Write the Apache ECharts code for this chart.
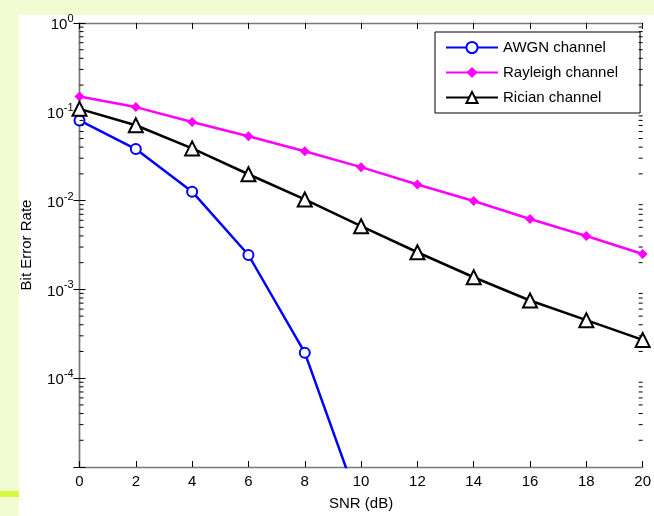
<!DOCTYPE html>
<html>
<head>
<meta charset="utf-8">
<script src="https://cdn.jsdelivr.net/npm/echarts@6/dist/echarts.min.js"></script>
<style>
html,body{margin:0;padding:0;width:654px;height:516px;overflow:hidden;background:#f2fcd2;}
#panel{position:absolute;left:19px;top:15px;width:635px;height:501px;background:#ffffff;}
#bar{position:absolute;left:0;top:491px;width:19px;height:6px;background:#d4fa3a;}
#chart{position:absolute;left:0;top:0;width:654px;height:516px;}
</style>
</head>
<body>
<div id="panel"></div>
<div id="bar"></div>
<div id="chart"></div>
<script>
// Data
const snr = [0, 2, 4, 6, 8, 10, 12, 14, 16, 18, 20];
const awgn = [0.080, 0.038, 0.0126, 0.00244, 0.000194, 0.0000033];
const rayleigh = [0.149, 0.113, 0.0768, 0.053, 0.036, 0.0238, 0.0152, 0.0099, 0.0062, 0.0040, 0.0025];
const rician = [0.108, 0.0705, 0.0387, 0.0198, 0.0103, 0.00515, 0.00262, 0.00137, 0.00075, 0.00045, 0.00027];
const seriesNames = ['AWGN channel', 'Rayleigh channel', 'Rician channel'];
const xTicks = [0, 2, 4, 6, 8, 10, 12, 14, 16, 18, 20];
const yDecades = [-5, -4, -3, -2, -1, 0];

const minorVals = [];
for (let d = -5; d < 0; d++) {
  for (let m = 2; m <= 9; m++) minorVals.push(m * Math.pow(10, d));
}

const pair = (xs, ys) => ys.map((v, i) => [xs[i], v]);
const font = 'Liberation Sans, Arial, sans-serif';

const chart = echarts.init(document.getElementById('chart'), null, {renderer: 'canvas'});
const yLabelFmt = function (v) {
  const e = Math.round(Math.log10(v));
  if (e === yDecades[0]) return '';
  return '{b|10}{e|' + e + '}';
};
const axisLineStyle = {color: '#777777', width: 1.4};
const option = {
  animation: false,
  backgroundColor: 'transparent',
  textStyle: {fontFamily: font},
  grid: {left: 79.5, right: 6.5, top: 23, bottom: 47, containLabel: false},
  legend: {
    orient: 'vertical',
    left: 435, top: 32,
    backgroundColor: '#ffffff',
    borderColor: '#000000', borderWidth: 1,
    padding: [8, 22, 8, 10],
    itemGap: 10,
    itemWidth: 52, itemHeight: 14,
    textStyle: {fontSize: 15, color: '#000', fontFamily: font},
    data: seriesNames
  },
  xAxis: [{
    type: 'value', min: 0, max: 20, interval: 2,
    name: 'SNR (dB)', nameLocation: 'middle', nameGap: 29,
    nameTextStyle: {fontSize: 15, color: '#000', fontFamily: font},
    axisLine: {lineStyle: axisLineStyle},
    axisTick: {inside: true, length: 6, lineStyle: {color: '#000'}},
    axisLabel: {fontSize: 15, color: '#000', margin: 7, fontFamily: font,
      formatter: v => xTicks.indexOf(v) >= 0 ? String(v) : ''},
    splitLine: {show: false}
  }, {
    type: 'value', min: 0, max: 20, interval: 2, position: 'top',
    axisLine: {lineStyle: axisLineStyle},
    axisTick: {inside: true, length: 6, lineStyle: {color: '#000'}},
    axisLabel: {show: false}, splitLine: {show: false}
  }],
  yAxis: [{
    type: 'log', logBase: 10, min: 1e-5, max: 1,
    name: 'Bit Error Rate', nameLocation: 'middle', nameGap: 45,
    nameTextStyle: {fontSize: 15, color: '#000', fontFamily: font},
    axisLine: {lineStyle: axisLineStyle},
    axisTick: {inside: true, length: 6, lineStyle: {color: '#000'}},
    axisLabel: {
      margin: 6, formatter: yLabelFmt,
      rich: {
        b: {fontSize: 15, color: '#000', fontFamily: font, verticalAlign: 'bottom'},
        e: {fontSize: 11, color: '#000', fontFamily: font, verticalAlign: 'bottom', padding: [0, 0, 8, 0]}
      }
    },
    splitLine: {show: false}
  }, {
    type: 'log', logBase: 10, min: 1e-5, max: 1, position: 'right',
    axisLine: {lineStyle: axisLineStyle},
    axisTick: {inside: true, length: 6, lineStyle: {color: '#000'}},
    axisLabel: {show: false}, splitLine: {show: false}
  }],
  series: [
    {
      type: 'custom', silent: true, clip: false, z: 10,
      xAxisIndex: 0, yAxisIndex: 0,
      data: minorVals.map(v => [0, v]),
      renderItem: function (params, api) {
        const v = api.value(1);
        const pl = api.coord([0, v]);
        const pr = api.coord([20, v]);
        return {
          type: 'group',
          children: [
            {type: 'line', shape: {x1: pl[0], y1: pl[1], x2: pl[0] + 4, y2: pl[1]}, style: {stroke: '#000', lineWidth: 1}},
            {type: 'line', shape: {x1: pr[0], y1: pr[1], x2: pr[0] - 4, y2: pr[1]}, style: {stroke: '#000', lineWidth: 1}}
          ]
        };
      }
    },
    {
      name: seriesNames[0], type: 'line', clip: true, z: 5,
      data: pair(snr, awgn),
      symbol: 'emptyCircle', symbolSize: 10,
      lineStyle: {color: '#0000ff', width: 2.5},
      itemStyle: {color: '#0000ff', borderWidth: 2}
    },
    {
      name: seriesNames[1], type: 'line', clip: false, z: 5,
      data: pair(snr, rayleigh),
      symbol: 'diamond', symbolSize: 10,
      lineStyle: {color: '#ff00ff', width: 2.5},
      itemStyle: {color: '#ff00ff'}
    },
    {
      name: seriesNames[2], type: 'line', clip: false, z: 5,
      data: pair(snr, rician),
      symbol: 'emptyTriangle', symbolSize: 14,
      lineStyle: {color: '#000000', width: 2.5},
      itemStyle: {color: '#000000', borderWidth: 2.4}
    }
  ]
};
chart.setOption(option);
</script>
</body>
</html>
